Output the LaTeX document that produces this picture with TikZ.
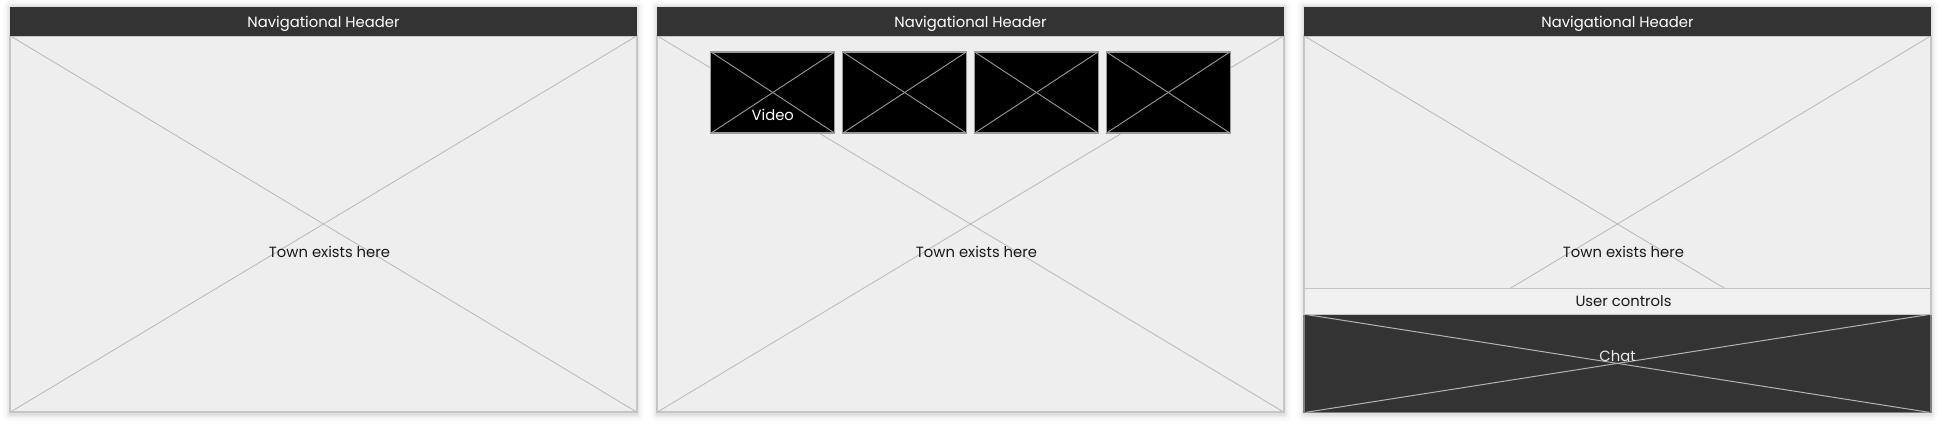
\documentclass[tikz,border=0pt]{standalone}
\usepackage{fontspec}
\setmainfont{Poppins}
\usetikzlibrary{positioning,matrix,backgrounds}

\definecolor{headgray}{HTML}{333333}
\definecolor{panelgray}{HTML}{EEEEEE}
\definecolor{bordergray}{HTML}{C6C6C6}
\definecolor{crossgray}{HTML}{BDBDBD}
\definecolor{ctrlgray}{HTML}{F0F0F0}
\definecolor{vidgray}{HTML}{9A9A9A}

\begin{document}
\begin{tikzpicture} [x=0.5pt, y=-0.5pt,
      every node/.style={font=\fontsize{7.4}{9}\selectfont, inner sep=0pt},
      header/.style={fill=headgray, text=white, minimum width=313.5pt, minimum height=14.5pt, text depth=0pt},
      body/.style={fill=panelgray, draw=bordergray, line width=0.6pt, minimum width=313.5pt, minimum height=188pt},
      cross/.style={draw=crossgray, line width=0.45pt, shorten <=1pt, shorten >=1pt},
      video/.style={fill=black, draw=vidgray, line width=0.6pt, minimum width=62pt, minimum height=40.5pt},
      vcross/.style={draw=vidgray, line width=0.45pt, shorten <=1pt, shorten >=1pt},
      ctrlbar/.style={fill=ctrlgray, draw=bordergray, line width=0.6pt, outer sep=0pt, minimum width=313.5pt, minimum height=13pt, text=black!90},
      chatbox/.style={fill=headgray, draw=gray, line width=0.6pt, outer sep=0pt, minimum width=313.5pt, minimum height=49.2pt},
      ccross/.style={draw=white!70!black, line width=0.5pt, shorten <=1pt, shorten >=1pt}]
      \useasboundingbox (0,0) rectangle (1942,428);

      % three screens
      \foreach \p/\cx in {1/323.5, 2/970.5, 3/1617.5} {
          \node[body] (town\p) at (\cx,224) {};
          \node[header] (head\p) at (\cx,21.5) {Navigational Header};
          \draw[cross] (town\p.north west) -- (town\p.south east);
          \draw[cross] (town\p.north east) -- (town\p.south west);
          \node[text=black!90] (townlabel\p) at ([xshift=3pt, yshift=-14pt]town\p.center) {Town exists here};
      }

      % video strip
      \matrix(videos)[matrix of nodes, nodes in empty cells,
          nodes={video}, column sep=3.3pt, inner sep=0pt] at (970.5,92.5)
      {
          & & & \\
      };
      \foreach \i in {1,...,4} {
          \draw[vcross] (videos-1-\i.north west) -- (videos-1-\i.south east);
          \draw[vcross] (videos-1-\i.north east) -- (videos-1-\i.south west);
      }
      \node[text=white] (videolabel) at ([yshift=-11.25pt]videos-1-1.center) {Video};

      % controls and chat
      \node[chatbox, anchor=south] (chat) at (town3.south) {};
      \node[ctrlbar, above=0pt of chat] (usercontrols) {\hspace{6pt}User controls};
      \draw[ccross] (chat.north west) -- (chat.south east);
      \draw[ccross] (chat.north east) -- (chat.south west);
      \node[text=white!92!black] (chatlabel) at ([yshift=3.75pt]chat.center) {Chat};

      \begin{scope}[on background layer]
          \fill[white] (0,0) rectangle (1942,428);
          \foreach \p in {1,2,3}
              \foreach \s/\o in {0.5/0.06, 1.5/0.04, 3/0.025}
                  \fill[black, opacity=\o, rounded corners=\s pt]
                      ([shift={(-\s pt,\s pt)}]head\p.north west) rectangle ([shift={(\s pt,-\s pt-1pt)}]town\p.south east);
      \end{scope}
\end{tikzpicture}
\end{document}
